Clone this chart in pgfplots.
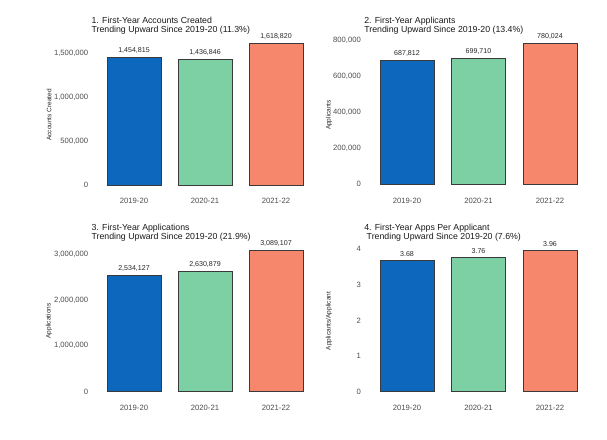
\documentclass[border=0pt]{standalone}
\usepackage{fontspec}
\setmainfont{Liberation Sans}
\usepackage{pgfplots}
\pgfplotsset{compat=1.18}

\definecolor{barblue}{HTML}{0D68BD}
\definecolor{bargreen}{HTML}{7DCFA4}
\definecolor{barsalmon}{HTML}{F7876C}
\definecolor{tickgray}{HTML}{4D4D4D}
\definecolor{edgegray}{HTML}{3A3A3A}

\pgfplotsset{
  panel/.style={
    scale only axis,
    xmin=0.4, xmax=3.6,
    xtick={1,2,3}, xticklabels={2019-20,2020-21,2021-22},
    axis line style={draw=none},
    major tick length=0pt,
    ybar, bar width=54bp, bar shift=0pt,
    scaled y ticks=false,
    clip=false,
    /pgf/number format/assume math mode=true,
    ticklabel style={font=\fontsize{7.7}{8}\selectfont, text=tickgray},
    xticklabel style={inner sep=0pt, yshift=-5.8bp},
    yticklabel style={inner sep=0pt, xshift=-3bp,
      /pgf/number format/.cd, fixed, precision=0, 1000 sep={,}},
    nodes near coords style={font=\fontsize{7.1}{8}\selectfont, text=black!85,
      anchor=south, inner sep=0pt, yshift=3.6bp},
    every axis plot/.append style={draw=edgegray, line width=0.6pt},
  },
  bignum/.style={nodes near coords={\pgfmathprintnumber[fixed,precision=0,1000 sep={,},assume math mode=true]{\pgfplotspointmeta}}},
}
\newcommand{\paneltitle}[1]{\node[anchor=south west, inner sep=0pt, align=left,
  font=\fontsize{8.8}{9.5}\selectfont, text=black!90] at (rel axis cs:0,1) {#1};}
\tikzset{ylab/.style={rotate=90, inner sep=0pt, font=\fontsize{6.5}{7}\selectfont, text=black!85}}

\begin{document}
\begin{tikzpicture}
\path[use as bounding box] (0,0) rectangle (607bp,440bp);

% 1. accounts created
\begin{axis}[panel, bignum, at={(91.4bp,247.5bp)}, anchor=south west,
  width=227.2bp, height=157.5bp, ymin=-85000, ymax=1708000,
  ytick={0,500000,1000000,1500000}]
\addplot[fill=barblue] coordinates {(1,1454815)};
\addplot[fill=bargreen] coordinates {(2,1436846)};
\addplot[fill=barsalmon] coordinates {(3,1618820)};
\paneltitle{1. First-Year Accounts Created\\Trending Upward Since 2019-20 (11.3\%)}
\end{axis}

% 2. applicants
\begin{axis}[panel, bignum, at={(364.1bp,247.5bp)}, anchor=south west,
  width=228.8bp, height=157.5bp, ymin=-45500, ymax=828000,
  ytick={0,200000,400000,600000,800000}]
\addplot[fill=barblue] coordinates {(1,687812)};
\addplot[fill=bargreen] coordinates {(2,699710)};
\addplot[fill=barsalmon] coordinates {(3,780024)};
\paneltitle{2. First-Year Applicants\\Trending Upward Since 2019-20 (13.4\%)}
\end{axis}

% 3. applications
\begin{axis}[panel, bignum, at={(91.4bp,40.8bp)}, anchor=south west,
  width=227.2bp, height=157.2bp, ymin=-163000, ymax=3261000,
  ytick={0,1000000,2000000,3000000}]
\addplot[fill=barblue] coordinates {(1,2534127)};
\addplot[fill=bargreen] coordinates {(2,2630879)};
\addplot[fill=barsalmon] coordinates {(3,3089107)};
\paneltitle{3. First-Year Applications\\Trending Upward Since 2019-20 (21.9\%)}
\end{axis}

% 4. apps per applicant
\begin{axis}[panel, at={(364.1bp,40.8bp)}, anchor=south west,
  width=228.8bp, height=157.2bp, ymin=-0.21, ymax=4.196,
  ytick={0,1,2,3,4},
  nodes near coords={\pgfmathprintnumber[fixed,precision=2,zerofill,assume math mode=true]{\pgfplotspointmeta}}]
\addplot[fill=barblue] coordinates {(1,3.68)};
\addplot[fill=bargreen] coordinates {(2,3.76)};
\addplot[fill=barsalmon] coordinates {(3,3.96)};
\paneltitle{4. First-Year Apps Per Applicant\\\ Trending Upward Since 2019-20 (7.6\%)}
\end{axis}

% y axis titles
\node[ylab] at (49bp,325bp) {Accounts Created};
\node[ylab] at (329bp,325bp) {Applicants};
\node[ylab] at (49bp,119bp) {Applications};
\node[ylab] at (329bp,119bp) {Applicants/Applicant};
\end{tikzpicture}
\end{document}
